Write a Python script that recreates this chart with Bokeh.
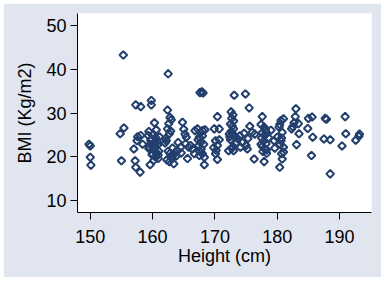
import math
from bokeh.plotting import figure
from bokeh.models import FixedTicker, ColumnDataSource
from bokeh.embed import file_html
from bokeh.resources import INLINE

height_cm = [
    149.8, 150.0, 150.0, 150.1,
    155.3, 154.8, 155.4, 155.0,
    157.3, 158.1, 157.5, 157.6, 157.0, 157.2, 157.3, 158.0, 158.1, 158.4,
    159.8, 159.8, 160.3, 159.6,
    159.4, 160.0, 160.5, 159.7, 160.2, 160.8, 159.5, 160.1, 160.6, 159.9, 160.4, 160.9, 159.3,
    160.7, 159.6, 160.3, 161.0, 160.0, 160.6, 160.2, 159.8, 160.4, 159.4, 161.1, 160.9,
    162.5, 162.4, 162.8, 163.0, 162.6, 162.4, 162.9, 162.7, 162.2, 162.0, 162.3, 162.5, 162.8,
    163.3, 163.6, 163.0, 162.7, 163.4, 163.9, 162.1, 163.2, 163.8,
    164.8, 165.0, 165.2, 164.1, 164.5, 165.4, 165.6, 165.8, 166.4, 164.0, 165.3, 166.8, 166.1,
    166.7, 164.6,
    167.6, 167.9, 168.1, 167.2, 167.7, 167.5, 168.0, 167.7, 167.4, 167.8, 168.0, 167.5, 168.3,
    168.3, 168.0, 168.4, 167.3, 168.2, 167.6,
    170.4, 169.9, 170.7, 170.1, 170.4, 170.1, 170.4, 170.7, 169.8, 170.2,
    172.6, 172.9, 172.7, 173.0, 172.5, 172.8, 173.0, 172.6, 172.9, 172.4, 172.3, 172.2, 172.8,
    173.1, 173.0, 173.5, 172.5, 173.2, 172.7,
    174.9, 175.5, 174.0, 173.7, 174.1, 175.0, 175.2, 174.7, 175.6, 176.0, 176.4, 176.3, 174.4, 175.3,
    177.6, 177.4, 177.9, 178.1, 177.6, 178.0, 177.5, 177.8, 178.2, 177.6, 178.0, 177.7, 178.3,
    177.9, 178.3, 177.4, 178.2, 179.0, 179.6, 179.5, 178.6,
    180.0, 180.3, 180.6, 181.0, 180.8, 180.6, 181.0, 180.7, 180.8, 180.4, 180.4, 180.7, 181.0, 180.5,
    182.5, 183.0, 182.9, 183.4, 183.5, 183.1, 182.3, 182.7,
    184.9, 185.0, 185.6, 185.5, 185.7, 187.5, 187.7, 187.9, 188.5, 188.5,
    190.4, 190.9, 191.0, 192.6, 193.1, 193.2,
]

bmi = [
    22.9, 22.5, 19.9, 18.1,
    43.3, 25.3, 26.6, 19.1,
    31.9, 31.5, 23.7, 24.6, 21.8, 19.1, 17.6, 16.5, 24.9, 22.9,
    32.9, 31.9, 27.8, 18.2,
    25.8, 25.0, 24.4, 23.8, 23.2, 22.7, 22.2, 21.6, 21.0, 20.5, 20.0, 19.6, 24.9,
    23.5, 22.9, 22.0, 21.3, 20.6, 26.2, 19.2, 24.1, 22.5, 21.9, 24.6, 20.4,
    39.0, 30.7, 29.0, 28.5, 27.6, 26.4, 25.9, 25.3, 23.7, 23.2, 19.3, 21.3, 20.8,
    20.3, 21.0, 19.8, 18.9, 18.4, 21.4, 24.2, 22.0, 20.2,
    27.9, 26.3, 25.2, 23.3, 22.2, 24.5, 19.6, 22.2, 21.8, 21.4, 23.0, 26.0, 22.6,
    20.7, 20.9,
    34.7, 34.9, 34.6, 26.4, 25.6, 24.5, 24.8, 23.3, 22.6, 21.8, 20.7, 20.3, 18.2,
    19.9, 26.0, 26.2, 23.9, 22.9, 21.2,
    29.2, 26.4, 26.4, 23.7, 22.6, 20.7, 19.4, 23.9, 22.1, 21.5,
    30.3, 29.6, 28.8, 28.2, 27.5, 27.0, 26.4, 25.8, 25.2, 24.6, 25.2, 21.4, 22.2,
    34.1, 21.4, 23.3, 23.9, 24.6, 21.9,
    34.4, 31.2, 24.8, 24.1, 22.2, 22.6, 21.8, 25.4, 27.0, 25.6, 25.2, 19.5, 23.3, 24.2,
    29.2, 27.4, 26.8, 26.2, 25.5, 24.9, 24.3, 23.6, 23.0, 22.4, 21.8, 21.2, 21.6,
    18.9, 20.8, 22.9, 25.7, 26.1, 22.0, 23.7, 24.4,
    24.5, 26.8, 28.3, 28.7, 25.6, 23.7, 22.2, 20.7, 19.5, 17.6, 27.4, 24.3, 21.1, 22.8,
    26.9, 31.0, 29.2, 27.6, 25.3, 22.8, 26.4, 27.8,
    26.5, 28.8, 29.1, 20.3, 24.5, 24.1, 28.8, 28.6, 23.9, 16.1,
    22.5, 29.2, 25.3, 23.8, 24.7, 25.2,
]

x_ticks = [150, 160, 170, 180, 190]
y_ticks = [10, 20, 30, 40, 50]
x_label = "Height (cm)"
y_label = "BMI (Kg/m2)"

FONT = "Liberation Sans"
BG = "#E1E5F0"
MARK = "#233F6E"

p = figure(
    width=378, height=274,
    x_range=(147.95, 195.13), y_range=(7.26, 52.81),
    output_backend="svg", toolbar_location=None,
    background_fill_color="white", border_fill_color=BG,
    min_border_left=74, min_border_right=10, min_border_top=10, min_border_bottom=65,
    margin=(3, 3, 4, 3),
)
p.outline_line_color = None
p.xgrid.visible = False
p.ygrid.visible = False

src = ColumnDataSource(dict(x=height_cm, y=bmi))
p.scatter("x", "y", source=src, marker="square", size=5.4, angle=math.pi / 4,
          fill_color=None, line_color=MARK, line_width=2)

for ax, ticks, lab in ((p.xaxis[0], x_ticks, x_label), (p.yaxis[0], y_ticks, y_label)):
    ax.ticker = FixedTicker(ticks=ticks)
    ax.minor_tick_line_color = None
    ax.major_tick_in = 0
    ax.major_tick_out = 7
    ax.axis_line_color = "black"
    ax.major_tick_line_color = "black"
    ax.major_label_text_font = FONT
    ax.major_label_text_font_size = "18px"
    ax.major_label_text_color = "black"
    ax.axis_label = lab
    ax.axis_label_text_font = FONT
    ax.axis_label_text_font_size = "18px"
    ax.axis_label_text_font_style = "normal"
    ax.axis_label_text_color = "black"

p.xaxis[0].major_label_standoff = 10
p.xaxis[0].axis_label_standoff = 0
p.yaxis[0].major_label_standoff = 4
p.yaxis[0].axis_label_standoff = 8
p.yaxis[0].major_label_orientation = "horizontal"

open("out.html", "w").write(file_html(p, INLINE))
